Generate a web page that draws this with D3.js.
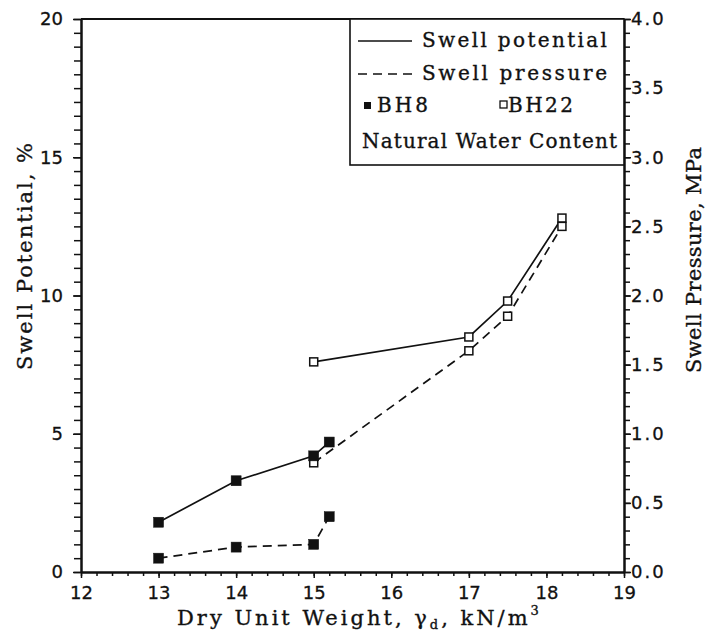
<!DOCTYPE html>
<html><head><meta charset="utf-8">
<script src="https://cdn.jsdelivr.net/npm/d3@7"></script>
<style>
body{margin:0;background:#fff}
svg{display:block}
.num{font-family:"DejaVu Sans",sans-serif;font-size:18px;fill:#111;stroke:#111;stroke-width:0.3px}
.ser{font-family:"DejaVu Serif",serif;fill:#111;stroke:#111;stroke-width:0.35px}
</style>
</head><body>
<svg id="c" width="708" height="632"></svg>
<script>
// ---- data ----
const xTickLabels = [12, 13, 14, 15, 16, 17, 18, 19];
const leftTickLabels = [0, 5, 10, 15, 20];
const rightTickLabels = [0.0, 0.5, 1.0, 1.5, 2.0, 2.5, 3.0, 3.5, 4.0];

const bh8Density = [13, 14, 15, 15.2];
const bh8SwellPotential = [1.8, 3.3, 4.2, 4.7];      // %
const bh8SwellPressure = [0.10, 0.18, 0.20, 0.40];   // MPa

const bh22Density = [15, 17, 17.5, 18.2];
const bh22SwellPotential = [7.6, 8.5, 9.8, 12.8];    // %
const bh22SwellPressure = [0.79, 1.60, 1.85, 2.50];  // MPa

// ---- chart ----
const svg = d3.select("#c");
const L = 81, R = 624, T = 19, B = 572;
const x = d3.scaleLinear().domain([12, 19]).range([L, R]);
const yL = d3.scaleLinear().domain([0, 20]).range([B, T]);
const yR = d3.scaleLinear().domain([0, 4]).range([B, T]);
const ink = "#111";

// minor ticks
const xMinor = d3.range(12, 19.001, 0.2).map(v => +v.toFixed(1));
const yMinor = d3.range(0, 20.001, 0.5).map(v => +v.toFixed(1));
const yRMinor = d3.range(0, 4.001, 0.1).map(v => +v.toFixed(1));

const gx = svg.append("g").attr("transform", `translate(0,${B})`);
gx.call(d3.axisBottom(x).tickValues(xMinor).tickSize(4).tickSizeOuter(0).tickFormat(""));
gx.append("g").call(d3.axisBottom(x).tickValues(xTickLabels).tickSize(6).tickSizeOuter(0).tickPadding(8).tickFormat(d3.format("d")));

const gy = svg.append("g").attr("transform", `translate(${L},0)`);
gy.call(d3.axisLeft(yL).tickValues(yMinor).tickSize(7).tickSizeOuter(0).tickFormat(""));
gy.append("g").call(d3.axisLeft(yL).tickValues(leftTickLabels).tickSize(8).tickSizeOuter(0).tickPadding(10).tickFormat(d3.format("d")));

const gr = svg.append("g").attr("transform", `translate(${R},0)`);
gr.call(d3.axisRight(yR).tickValues(yRMinor).tickSize(6).tickSizeOuter(0).tickFormat(""));
gr.append("g").call(d3.axisRight(yR).tickValues(rightTickLabels).tickSize(7).tickSizeOuter(0).tickPadding(0).tickFormat(d3.format(".1f")));

svg.selectAll(".domain").attr("stroke", ink).attr("stroke-width", 2);
svg.selectAll(".tick line").attr("stroke", ink).attr("stroke-width", 1.5);
svg.selectAll(".tick text").attr("class", "num").attr("font-family", null).attr("font-size", null).attr("fill", null);
gr.selectAll(".tick text").attr("letter-spacing", 2);

// top frame
svg.append("line").attr("x1", L).attr("x2", R).attr("y1", T).attr("y2", T)
  .attr("stroke", ink).attr("stroke-width", 2);

// series
const lineL = d3.line().x(d => x(d[0])).y(d => yL(d[1]));
const lineR = d3.line().x(d => x(d[0])).y(d => yR(d[1]));
const zip = (a, b) => a.map((v, i) => [v, b[i]]);

const series = [
  {pts: zip(bh22Density, bh22SwellPotential), line: lineL, y: yL, dash: null, open: true},
  {pts: zip(bh22Density, bh22SwellPressure), line: lineR, y: yR, dash: "9,6", open: true},
  {pts: zip(bh8Density, bh8SwellPotential), line: lineL, y: yL, dash: null, open: false},
  {pts: zip(bh8Density, bh8SwellPressure), line: lineR, y: yR, dash: "9,6", open: false}
];
series.forEach(s => {
  svg.append("path").attr("d", s.line(s.pts)).attr("fill", "none")
    .attr("stroke", ink).attr("stroke-width", 1.7)
    .attr("stroke-dasharray", s.dash);
});
series.forEach(s => {
  const sz = s.open ? 8 : 10;
  svg.append("g").selectAll("rect").data(s.pts).join("rect")
    .attr("x", d => x(d[0]) - sz / 2).attr("y", d => s.y(d[1]) - sz / 2)
    .attr("width", sz).attr("height", sz)
    .attr("fill", s.open ? "#fff" : ink)
    .attr("stroke", ink).attr("stroke-width", s.open ? 1.5 : 0.5);
});

// legend
const lg = svg.append("g");
lg.append("rect").attr("x", 350).attr("y", T).attr("width", R - 350).attr("height", 146)
  .attr("fill", "#fff").attr("stroke", ink).attr("stroke-width", 1.6);
lg.append("line").attr("x1", 358).attr("x2", 412).attr("y1", 41).attr("y2", 41)
  .attr("stroke", ink).attr("stroke-width", 1.7);
lg.append("line").attr("x1", 358).attr("x2", 412).attr("y1", 74).attr("y2", 74)
  .attr("stroke", ink).attr("stroke-width", 1.7).attr("stroke-dasharray", "9,6");
lg.append("rect").attr("x", 364).attr("y", 102).attr("width", 7).attr("height", 7).attr("fill", ink);
lg.append("rect").attr("x", 500).attr("y", 101).attr("width", 7).attr("height", 7)
  .attr("fill", "#fff").attr("stroke", ink).attr("stroke-width", 1.3);
const lt = (txt, xx, yy, len) => lg.append("text").attr("class", "ser").attr("x", xx).attr("y", yy)
  .attr("font-size", 20).attr("textLength", len).attr("lengthAdjust", "spacing").text(txt);
lt("Swell potential", 422, 47, 185);
lt("Swell pressure", 422, 80, 185);
lt("BH8", 377, 112, 51);
lt("BH22", 508, 112, 65);
lt("Natural Water Content", 362, 148, 255);

// axis titles
const xt = svg.append("text").attr("class", "ser").attr("x", 177).attr("y", 625)
  .attr("font-size", 21).attr("letter-spacing", 3);
xt.append("tspan").text("Dry Unit Weight, γ");
xt.append("tspan").attr("font-size", 13).attr("dy", 4).text("d");
xt.append("tspan").attr("dy", -4).text(", kN/m");
xt.append("tspan").attr("font-size", 13).attr("dy", -10).text("3");

svg.append("text").attr("class", "ser").attr("font-size", 21)
  .attr("transform", "translate(32,370) rotate(-90)")
  .attr("textLength", 227).attr("lengthAdjust", "spacing").text("Swell Potential, %");
svg.append("text").attr("class", "ser").attr("font-size", 21)
  .attr("transform", "translate(701,373) rotate(-90)")
  .attr("textLength", 226).attr("lengthAdjust", "spacing").text("Swell Pressure, MPa");
</script>
</body></html>
